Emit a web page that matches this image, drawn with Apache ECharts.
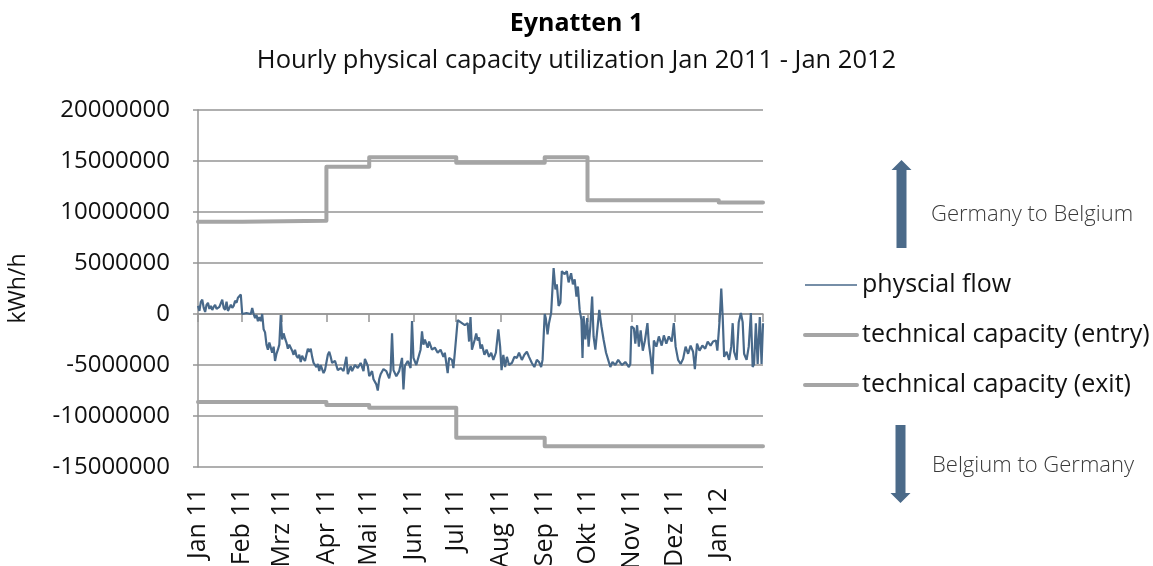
<!DOCTYPE html>
<html><head><meta charset="utf-8">
<script src="https://cdn.jsdelivr.net/npm/echarts@6/dist/echarts.min.js"></script>
<style>html,body{margin:0;padding:0;background:#fff}#c{width:1153px;height:566px}</style>
</head><body><div id="c"></div>
<script>
const monthStarts = ['2011-01-01','2011-02-01','2011-03-01','2011-04-01','2011-05-01','2011-06-01','2011-07-01','2011-08-01','2011-09-01','2011-10-01','2011-11-01','2011-12-01','2012-01-01','2012-02-01'];
const monthLabels = ['Jan 11','Feb 11','Mrz 11','Apr 11','Mai 11','Jun 11','Jul 11','Aug 11','Sep 11','Okt 11','Nov 11','Dez 11','Jan 12'];

const entryDates = ['2011-01-01','2011-02-01','2011-04-01','2011-05-01','2011-07-01','2011-09-01','2011-10-01','2012-01-01','2012-02-01'];
const entryValues = [9.05e6, 9.15e6, 14.44e6, 15.36e6, 14.84e6, 15.36e6, 11.15e6, 10.92e6, 10.92e6];
const exitDates = ['2011-01-01','2011-04-01','2011-05-01','2011-07-01','2011-09-01','2012-02-01'];
const exitValues = [-8.62e6, -8.91e6, -9.18e6, -12.14e6, -12.96e6, -12.96e6];

const flowPoints = [
['2011-01-01',0.8e6],['2011-01-02',0.3e6],['2011-01-03',1.2e6],['2011-01-04',1.4e6],['2011-01-05',0.6e6],['2011-01-06',0.2e6],['2011-01-07',0.9e6],['2011-01-08',1.1e6],['2011-01-09',0.5e6],['2011-01-10',0.8e6],['2011-01-11',0.4e6],['2011-01-12',0.7e6],['2011-01-13',0.9e6],['2011-01-14',0.5e6],['2011-01-15',0.4e6],['2011-01-16',0.7e6],['2011-01-17',0.6e6],['2011-01-18',1.4e6],['2011-01-19',0.6e6],['2011-01-20',0.4e6],['2011-01-21',1.2e6],['2011-01-22',0.3e6],['2011-01-23',0.6e6],['2011-01-24',0.9e6],['2011-01-25',0.6e6],['2011-01-26',0.8e6],['2011-01-27',1.3e6],['2011-01-28',1.1e6],['2011-01-29',1.6e6],['2011-01-30',1.7e6],['2011-01-31',1.9e6],
['2011-02-01',0],['2011-02-04',0.1e6],['2011-02-07',0],['2011-02-08',0.6e6],['2011-02-09',0],['2011-02-10',-0.4e6],['2011-02-11',-0.1e6],['2011-02-12',-0.7e6],['2011-02-13',-0.3e6],['2011-02-14',-0.7e6],['2011-02-15',0],['2011-02-16',-1.5e6],['2011-02-17',-1.8e6],['2011-02-18',-3.0e6],['2011-02-19',-3.5e6],['2011-02-20',-2.8e6],['2011-02-21',-3.3e6],['2011-02-22',-3.8e6],['2011-02-23',-3.2e6],['2011-02-24',-4.6e6],['2011-02-25',-3.9e6],['2011-02-26',-3.5e6],['2011-02-27',-3.0e6],['2011-02-28',-0.1e6],
['2011-03-01',-2.5e6],['2011-03-02',-1.9e6],['2011-03-03',-2.4e6],['2011-03-04',-2.8e6],['2011-03-05',-3.4e6],['2011-03-06',-3.0e6],['2011-03-07',-2.9e6],['2011-03-08',-3.6e6],['2011-03-09',-4.0e6],['2011-03-10',-3.5e6],['2011-03-11',-4.1e6],['2011-03-12',-4.3e6],['2011-03-13',-4.0e6],['2011-03-14',-4.7e6],['2011-03-15',-4.1e6],['2011-03-16',-4.4e6],['2011-03-17',-4.6e6],['2011-03-18',-4.0e6],['2011-03-19',-3.4e6],['2011-03-20',-3.7e6],['2011-03-21',-3.4e6],['2011-03-22',-4.2e6],['2011-03-23',-4.8e6],['2011-03-24',-4.9e6],['2011-03-25',-5.2e6],['2011-03-26',-4.9e6],['2011-03-27',-5.6e6],['2011-03-28',-5.0e6],['2011-03-29',-5.4e6],['2011-03-30',-5.8e6],['2011-03-31',-5.5e6],
['2011-04-02',-4.0e6],['2011-04-03',-3.7e6],['2011-04-04',-4.2e6],['2011-04-05',-4.8e6],['2011-04-07',-4.6e6],['2011-04-09',-5.5e6],['2011-04-11',-5.3e6],['2011-04-13',-5.6e6],['2011-04-15',-4.2e6],['2011-04-16',-5.9e6],['2011-04-18',-5.1e6],['2011-04-19',-5.6e6],['2011-04-21',-5.0e6],['2011-04-23',-5.3e6],['2011-04-25',-4.8e6],['2011-04-27',-5.6e6],['2011-04-28',-4.4e6],['2011-04-30',-5.1e6],
['2011-05-01',-6.1e6],['2011-05-03',-5.6e6],['2011-05-04',-6.4e6],['2011-05-06',-6.9e6],['2011-05-07',-7.5e6],['2011-05-08',-6.4e6],['2011-05-09',-5.9e6],['2011-05-11',-5.4e6],['2011-05-13',-5.6e6],['2011-05-15',-6.3e6],['2011-05-16',-5.6e6],['2011-05-17',-1.9e6],['2011-05-18',-5.5e6],['2011-05-20',-6.1e6],['2011-05-22',-5.6e6],['2011-05-24',-4.3e6],['2011-05-25',-7.4e6],['2011-05-26',-5.1e6],['2011-05-28',-4.6e6],['2011-05-30',-5.3e6],['2011-05-31',-0.7e6],
['2011-06-01',-4.3e6],['2011-06-03',-5.0e6],['2011-06-05',-4.0e6],['2011-06-06',-3.5e6],['2011-06-07',-1.7e6],['2011-06-08',-3.0e6],['2011-06-09',-2.5e6],['2011-06-11',-3.3e6],['2011-06-12',-2.7e6],['2011-06-14',-3.5e6],['2011-06-16',-3.3e6],['2011-06-18',-3.8e6],['2011-06-20',-3.5e6],['2011-06-22',-4.2e6],['2011-06-23',-3.8e6],['2011-06-25',-5.8e6],['2011-06-26',-4.3e6],['2011-06-28',-4.5e6],['2011-06-29',-5.3e6],['2011-06-30',-3.8e6],
['2011-07-02',-0.6e6],['2011-07-04',-0.8e6],['2011-07-07',-1.1e6],['2011-07-09',-0.9e6],['2011-07-10',-2.7e6],['2011-07-11',-0.3e6],['2011-07-12',-3.5e6],['2011-07-14',-2.5e6],['2011-07-15',-1.9e6],['2011-07-16',-2.6e6],['2011-07-17',-2.3e6],['2011-07-18',-3.4e6],['2011-07-19',-3.0e6],['2011-07-20 18:00',-4.0e6],['2011-07-22 06:00',-3.5e6],['2011-07-24',-4.2e6],['2011-07-25 12:00',-3.8e6],['2011-07-27',-4.5e6],['2011-07-28 18:00',-3.8e6],['2011-07-30 12:00',-1.5e6],['2011-07-31 18:00',-3.2e6],
['2011-08-01 18:00',-5.5e6],['2011-08-03',-4.0e6],['2011-08-04 06:00',-5.2e6],['2011-08-05 12:00',-4.2e6],['2011-08-07',-5.0e6],['2011-08-09',-4.8e6],['2011-08-10 18:00',-4.2e6],['2011-08-12 12:00',-4.3e6],['2011-08-14',-3.8e6],['2011-08-16',-4.5e6],['2011-08-17 18:00',-4.0e6],['2011-08-19 12:00',-3.7e6],['2011-08-21',-4.2e6],['2011-08-23',-4.8e6],['2011-08-24 18:00',-5.2e6],['2011-08-26 12:00',-4.5e6],['2011-08-28',-4.7e6],['2011-08-29 12:00',-5.2e6],['2011-08-30 12:00',-4.5e6],
['2011-09-01',0],['2011-09-01 18:00',-0.4e6],['2011-09-03',-2.0e6],['2011-09-04',-0.9e6],['2011-09-05 12:00',0.1e6],['2011-09-07 06:00',4.5e6],['2011-09-08 12:00',2.4e6],['2011-09-09 12:00',2.9e6],['2011-09-10 18:00',0.8e6],['2011-09-12',1.1e6],['2011-09-13',4.2e6],['2011-09-15',3.9e6],['2011-09-16 12:00',4.2e6],['2011-09-17 18:00',3.1e6],['2011-09-19 12:00',4.0e6],['2011-09-20 18:00',2.9e6],['2011-09-22',3.4e6],['2011-09-23 06:00',1.7e6],['2011-09-24 06:00',2.7e6],['2011-09-25 12:00',0.4e6],['2011-09-26 18:00',-0.6e6],['2011-09-27 12:00',-4.3e6],['2011-09-28 06:00',-0.2e6],['2011-09-29 12:00',-2.5e6],['2011-09-30 18:00',-0.4e6],
['2011-10-01 18:00',-3.2e6],['2011-10-03',-1.2e6],['2011-10-04 06:00',1.7e6],['2011-10-05 06:00',-2.2e6],['2011-10-06 12:00',-3.5e6],['2011-10-07 18:00',-1.7e6],['2011-10-09 06:00',0.4e6],['2011-10-10 18:00',-1.2e6],['2011-10-12 06:00',-2.5e6],['2011-10-14',-3.8e6],['2011-10-15 12:00',-4.5e6],['2011-10-17',-5.2e6],['2011-10-18 12:00',-4.7e6],['2011-10-20 12:00',-5.0e6],['2011-10-22 12:00',-4.5e6],['2011-10-24',-4.8e6],['2011-10-25 06:00',-5.0e6],['2011-10-27 12:00',-4.7e6],['2011-10-30',-5.2e6],['2011-10-31',-4.9e6],['2011-10-31 18:00',-1.2e6],
['2011-11-02 12:00',-1.4e6],['2011-11-03 12:00',-2.9e6],['2011-11-04 18:00',-1.1e6],['2011-11-06',-3.2e6],['2011-11-07 06:00',-1.6e6],['2011-11-08 18:00',-3.6e6],['2011-11-10 06:00',-2.6e6],['2011-11-12',-0.9e6],['2011-11-13',-2.9e6],['2011-11-14 06:00',-4.2e6],['2011-11-15 12:00',-5.9e6],['2011-11-16 12:00',-2.6e6],['2011-11-18 06:00',-3.2e6],['2011-11-20',-2.2e6],['2011-11-22',-3.1e6],['2011-11-23 12:00',-2.1e6],['2011-11-25 06:00',-2.9e6],['2011-11-27',-2.2e6],['2011-11-29',-2.7e6],['2011-11-30 12:00',-0.9e6],
['2011-12-01 18:00',-3.2e6],['2011-12-03 12:00',-4.5e6],['2011-12-05 06:00',-4.9e6],['2011-12-07',-4.4e6],['2011-12-08 18:00',-3.2e6],['2011-12-10 12:00',-3.9e6],['2011-12-12 06:00',-3.1e6],['2011-12-14',-3.7e6],['2011-12-15 06:00',-5.4e6],['2011-12-16 18:00',-2.9e6],['2011-12-18 12:00',-3.6e6],['2011-12-20 12:00',-3.1e6],['2011-12-22 12:00',-3.4e6],['2011-12-24 06:00',-2.7e6],['2011-12-26 06:00',-3.1e6],['2011-12-28',-2.7e6],['2011-12-30',-2.6e6],['2011-12-31',-3.6e6],
['2012-01-01 18:00',-0.3e6],['2012-01-02 18:00',2.5e6],['2012-01-03 18:00',-0.3e6],['2012-01-04 18:00',-4.2e6],['2012-01-06 12:00',-3.7e6],['2012-01-08 06:00',-4.5e6],['2012-01-09 18:00',-3.2e6],['2012-01-10 18:00',-0.9e6],['2012-01-11 18:00',-3.7e6],['2012-01-13 12:00',-4.5e6],['2012-01-15',-0.8e6],['2012-01-16 12:00',0.1e6],['2012-01-17 18:00',-0.8e6],['2012-01-18 18:00',-3.9e6],['2012-01-20 12:00',-4.5e6],['2012-01-22',-3.2e6],['2012-01-23 12:00',0.1e6],['2012-01-24 18:00',-5.2e6],['2012-01-25 18:00',-4.9e6],['2012-01-27',-0.9e6],['2012-01-28 06:00',-4.9e6],['2012-01-29 18:00',-0.3e6],['2012-01-31',-4.9e6],['2012-02-01',-0.9e6]
];

const FONT = "'Open Sans', 'Noto Sans', sans-serif";
const GRID_COLOR = '#959595';
const FLOW_COLOR = '#48698a';
const CAP_COLOR = '#a5a5a5';
const ARROW_COLOR = '#4b6a89';

const P = s => echarts.number.parseDate(s).getTime();
const tickTs = monthStarts.map(P);
const labelTs = tickTs.slice(0, monthLabels.length);
const xMin = tickTs[0], xMax = tickTs[tickTs.length - 1];

function monthLabel(v) {
  let best = 0, bd = Infinity;
  labelTs.forEach((t, i) => { const d = Math.abs(t - v); if (d < bd) { bd = d; best = i; } });
  return bd < 86400000 * 3 ? monthLabels[best] : '';
}

const chart = echarts.init(document.getElementById('c'), null, {renderer: 'canvas'});
chart.setOption({
  animation: false,
  backgroundColor: '#ffffff',
  textStyle: {fontFamily: FONT},
  title: [
    {text: 'Eynatten 1', left: 'center', top: 6,
     textStyle: {fontSize: 25, fontWeight: 'bold', color: '#000', fontFamily: FONT}},
    {text: 'Hourly physical capacity utilization Jan 2011 - Jan 2012', left: 'center', top: 43,
     textStyle: {fontSize: 25.5, fontWeight: 'normal', color: '#111', fontFamily: FONT}}
  ],
  grid: {left: 198, right: 390, top: 110, bottom: 99, containLabel: false, outerBoundsMode: 'none'},
  legend: {
    orient: 'vertical', left: 803, top: 271, padding: 0,
    itemWidth: 52, itemHeight: 28, itemGap: 22,
    itemStyle: {opacity: 0},
    textStyle: {fontSize: 25, color: '#111', fontFamily: FONT, lineHeight: 28},
    data: [
      {name: 'physcial flow', lineStyle: {width: 1.6, color: FLOW_COLOR}},
      {name: 'technical capacity (entry)', lineStyle: {width: 4, color: CAP_COLOR, cap: 'round'}},
      {name: 'technical capacity (exit)', lineStyle: {width: 4, color: CAP_COLOR, cap: 'round'}}
    ]
  },
  xAxis: [
    {type: 'value', min: xMin, max: xMax, position: 'bottom',
     axisLine: {show: true, onZero: true, lineStyle: {color: GRID_COLOR, width: 1.5}},
     axisTick: {show: true, length: 8, customValues: tickTs, lineStyle: {color: GRID_COLOR, width: 1.5}},
     axisLabel: {show: false},
     splitLine: {show: false}},
    {type: 'value', min: xMin, max: xMax, position: 'bottom',
     axisLine: {show: false, onZero: false},
     axisTick: {show: false},
     axisLabel: {show: true, customValues: labelTs, rotate: 90, margin: 21, fontSize: 25, color: '#111',
                 fontFamily: FONT, formatter: monthLabel},
     splitLine: {show: false}}
  ],
  yAxis: {
    type: 'value', min: -15000000, max: 20000000, interval: 5000000,
    name: 'kWh/h', nameLocation: 'middle', nameGap: 168, nameRotate: 90,
    nameTextStyle: {fontSize: 23, color: '#111', fontFamily: FONT},
    axisLine: {show: true, lineStyle: {color: GRID_COLOR, width: 1.5}},
    axisTick: {show: true, length: 5, lineStyle: {color: GRID_COLOR, width: 1.5}},
    axisLabel: {fontSize: 24, color: '#111', margin: 28, fontFamily: FONT, formatter: v => String(v)},
    splitLine: {show: true, lineStyle: {color: GRID_COLOR, width: 1.5}}
  },
  series: [
    {name: 'physcial flow', type: 'line', xAxisIndex: 0, showSymbol: false, symbol: 'none',
     data: flowPoints.map(([d, v]) => [P(d), v]), lineStyle: {color: FLOW_COLOR, width: 2.2}, itemStyle: {color: FLOW_COLOR}, z: 3},
    {name: 'technical capacity (entry)', type: 'line', xAxisIndex: 0, showSymbol: false, symbol: 'none', step: 'end',
     data: entryDates.map((d, i) => [P(d), entryValues[i]]),
     lineStyle: {color: CAP_COLOR, width: 4, cap: 'round', join: 'round'}, itemStyle: {color: CAP_COLOR}, z: 2},
    {name: 'technical capacity (exit)', type: 'line', xAxisIndex: 0, showSymbol: false, symbol: 'none', step: 'end',
     data: exitDates.map((d, i) => [P(d), exitValues[i]]),
     lineStyle: {color: CAP_COLOR, width: 4, cap: 'round', join: 'round'}, itemStyle: {color: CAP_COLOR}, z: 2}
  ],
  graphic: [
    {type: 'polygon', silent: true,
     shape: {points: [[896.5,248],[906.5,248],[906.5,170],[911.5,170],[901.5,160],[891.5,170],[896.5,170]]},
     style: {fill: ARROW_COLOR}},
    {type: 'polygon', silent: true,
     shape: {points: [[895.5,425],[905.5,425],[905.5,493],[910.5,493],[900.5,503],[890.5,493],[895.5,493]]},
     style: {fill: ARROW_COLOR}},
    {type: 'text', left: 931, top: 204, silent: true,
     style: {text: 'Germany to Belgium', fontSize: 22, fill: '#3a3a3a', fontFamily: FONT, fontWeight: 300}},
    {type: 'text', left: 932, top: 455, silent: true,
     style: {text: 'Belgium to Germany', fontSize: 22, fill: '#3a3a3a', fontFamily: FONT, fontWeight: 300}}
  ]
});
</script>
</body></html>
